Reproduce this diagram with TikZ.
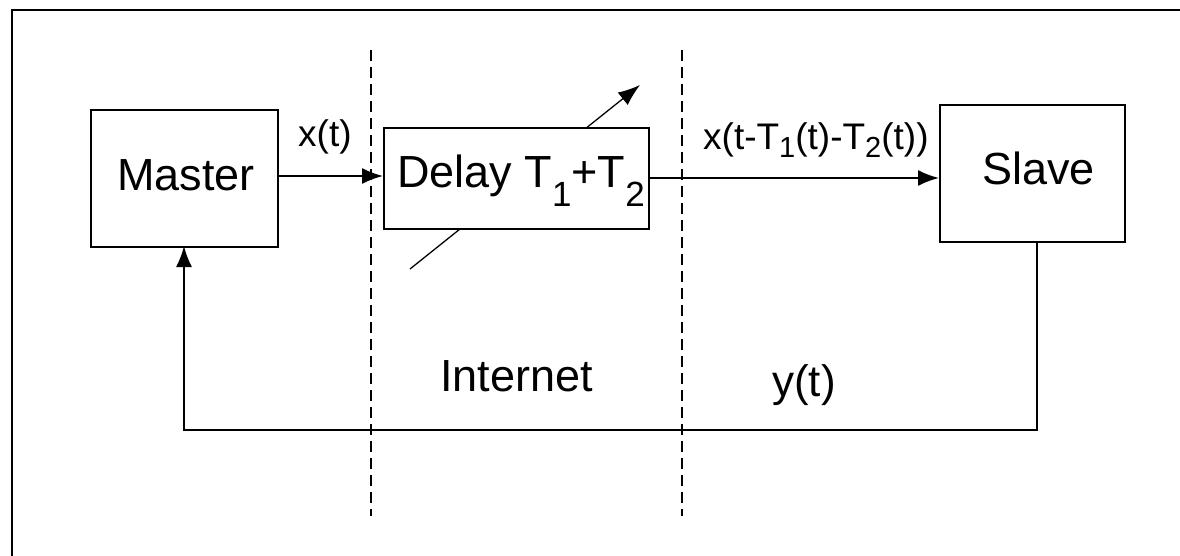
\documentclass[tikz,border=0pt]{standalone}
\usepackage{fontspec}
\setmainfont{Liberation Sans}
\usetikzlibrary{arrows.meta}
\newcommand\bigsub[1]{\raisebox{-19pt}{\fontsize{35}{35}\selectfont #1}}
\newcommand\smallsub[1]{\raisebox{-8pt}{\fontsize{29}{29}\selectfont #1}}
\begin{document}
\begin{tikzpicture}[x=1pt,y=-1pt,
  box/.style={draw,line width=2pt,fill=white,inner sep=0pt,anchor=north west},
  bigtxt/.style={font=\fontsize{45}{54}\selectfont,inner sep=0pt,anchor=base west},
  smalltxt/.style={font=\fontsize{37}{44}\selectfont,inner sep=0pt,anchor=base west},
  conn/.style={line width=1.8pt,-{Latex[length=21pt,width=16pt]}},
  sep/.style={line width=1.8pt,dash pattern=on 11pt off 6pt},
  frame/.style={line width=2.5pt}]
\fill[white] (0,0) rectangle (1180,556);
\useasboundingbox (0,0) rectangle (1180,556);
% outer frame (top and left edges visible)
\coordinate (frTL) at (12,10);
\coordinate (frTR) at (1180,10);
\coordinate (frBL) at (12,556);
\draw[frame] (frTR) -- (frTL) -- (frBL);
% dashed separators
\coordinate (d1t) at (371,50);
\coordinate (d1b) at (371,516);
\coordinate (d2t) at (682,50);
\coordinate (d2b) at (682,516);
\draw[sep] (d1t) -- (d1b);
\draw[sep] (d2t) -- (d2b);
% variable-delay arrow (behind the box)
\coordinate (va) at (410,269);
\coordinate (vb) at (640,85);
\draw[line width=1.3pt,-{Latex[length=22pt,width=16pt]}] (va) -- (vb);
% boxes
\node[box,minimum width=187pt,minimum height=137pt] (master) at (90,109) {};
\node[box,minimum width=265pt,minimum height=101pt] (delay) at (383,127) {};
\node[box,minimum width=185pt,minimum height=137pt] (slave) at (939,104) {};
% box texts
\node[bigtxt] (mastertxt) at (117,190) {Master};
\node[bigtxt] (delaytxt) at (397,188) {Delay T\bigsub{1}+T\bigsub{2}};
\node[bigtxt] (slavetxt) at (982,185) {Slave};
% forward connectors
\coordinate (m1) at (master.east |- 0,176);
\coordinate (d1) at (delay.west |- 0,176);
\draw[conn] (m1) -- (d1);
\coordinate (d2) at (delay.east |- 0,178);
\coordinate (s1) at (slave.west |- 0,178);
\draw[conn] (d2) -- (s1);
% feedback
\coordinate (sb) at (1037,241);
\coordinate (c1) at (1037,430);
\coordinate (c2) at (184,430);
\coordinate (mb) at (184,246);
\draw[conn] (sb) -- (c1) -- (c2) -- (mb);
% labels
\node[smalltxt] (xt) at (298,147) {x(t)};
\node[smalltxt] (xdel) at (703,150) {x(t-T\smallsub{1}(t)-T\smallsub{2}(t))};
\node[bigtxt] (internet) at (440,391) {Internet};
\node[bigtxt,font=\fontsize{44}{52}\selectfont] (yt) at (772,396) {y(t)};
\end{tikzpicture}
\end{document}
